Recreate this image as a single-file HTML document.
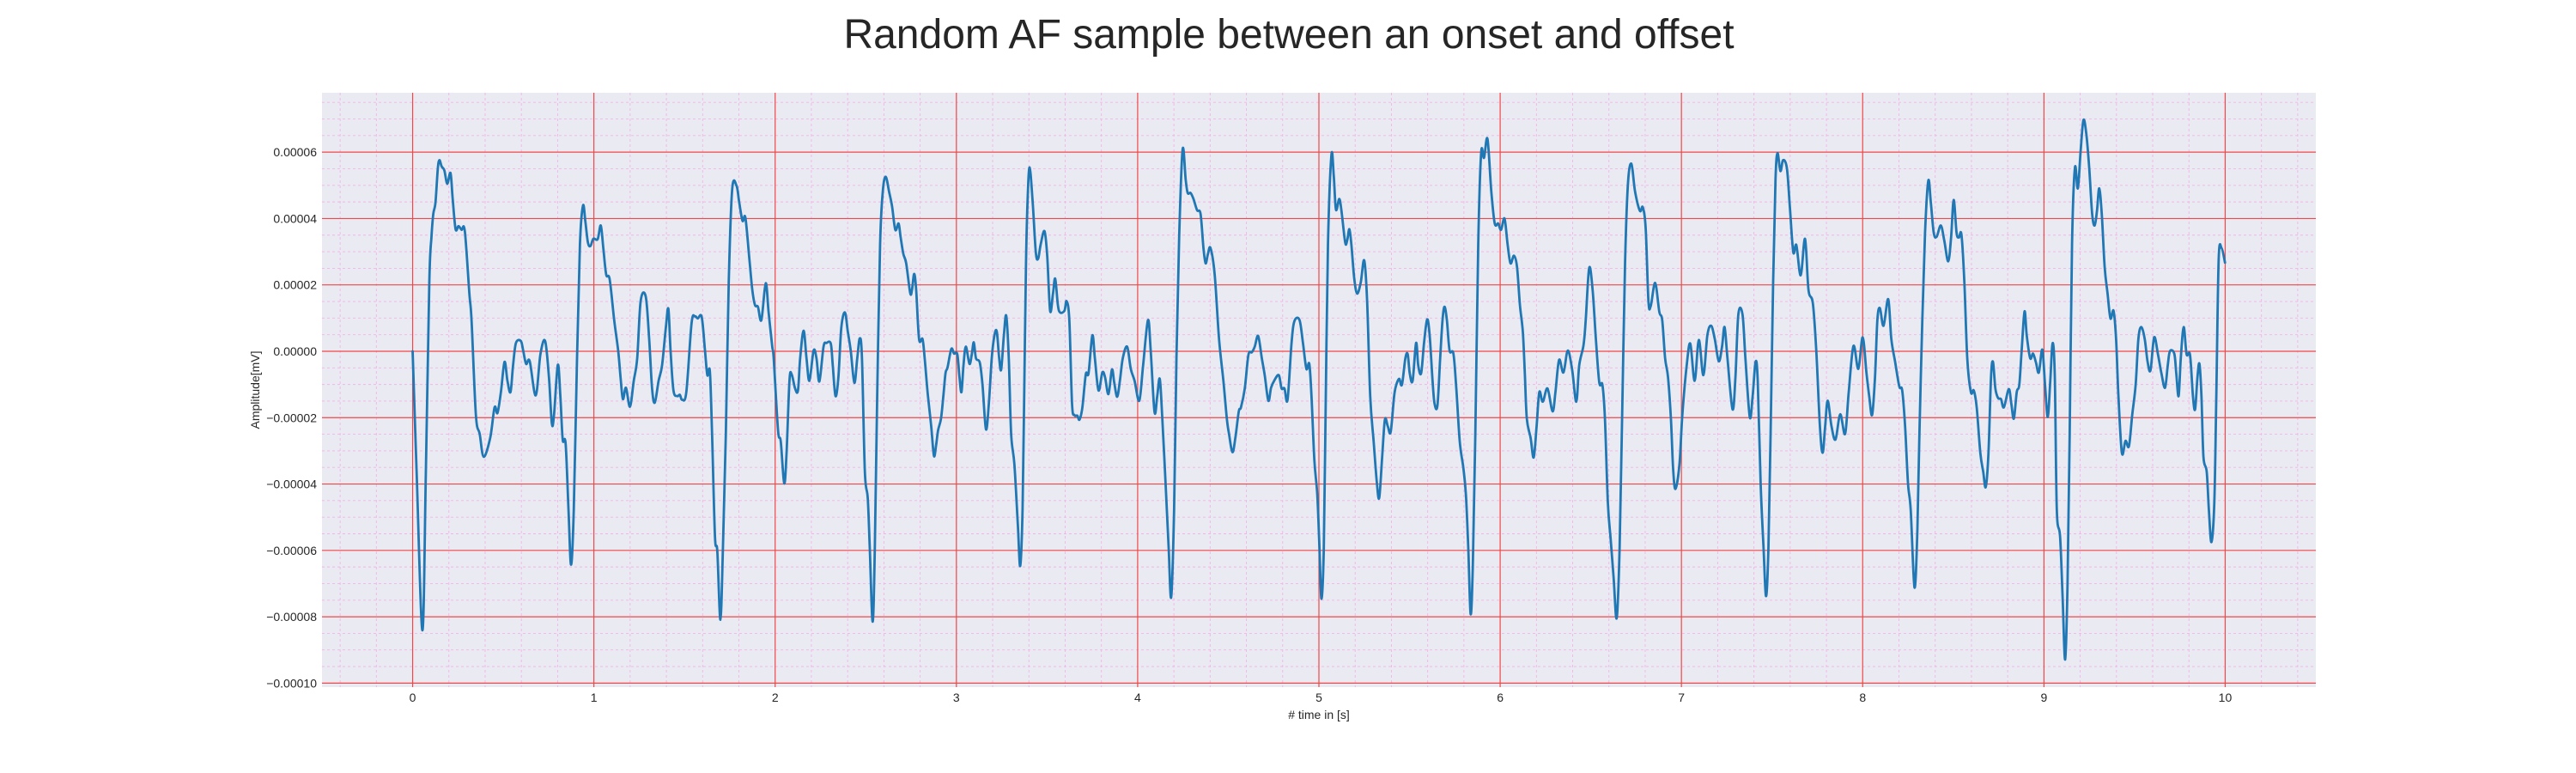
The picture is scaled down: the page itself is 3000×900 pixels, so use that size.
<!DOCTYPE html>
<html><head><meta charset="utf-8">
<style>
html,body{margin:0;padding:0;background:#fff;}
svg{display:block;font-family:"Liberation Sans",Arial,sans-serif;}
</style></head>
<body>
<svg id="chart" width="3000" height="900" viewBox="0 0 3000 900" xmlns="http://www.w3.org/2000/svg">
<text x="1501" y="56" font-size="48" text-anchor="middle" fill="#262626">Random AF sample between an onset and offset</text>
<rect x="375" y="108" width="2322" height="692" fill="#eaeaf2"/>
<g id="minor-grid"></g>
<g id="major-grid"></g>
<g id="yticks"></g>
<g id="xticks"></g>
<g id="series"></g>
<text x="1536" y="837" font-size="14" text-anchor="middle" fill="#262626"># time in [s]</text>
<text transform="translate(302,454) rotate(-90)" font-size="14" text-anchor="middle" fill="#262626">Amplitude[mV]</text>
</svg>
<script>
// time in seconds
const times = [0,0.022,0.054,0.073,0.092,0.104,0.114,0.126,0.139,0.148,0.160,0.175,0.191,0.209,0.221,0.237,0.253,0.270,0.288,0.313,0.325,0.349,0.370,0.392,0.428,0.452,0.468,0.487,0.507,0.523,0.540,0.554,0.570,0.597,0.610,0.626,0.646,0.679,0.705,0.731,0.752,0.768,0.780,0.801,0.815,0.828,0.844,0.860,0.874,0.889,0.907,0.923,0.940,0.953,0.967,0.981,0.997,1.021,1.038,1.052,1.068,1.087,1.112,1.134,1.147,1.160,1.177,1.199,1.220,1.239,1.258,1.286,1.305,1.321,1.336,1.357,1.376,1.397,1.411,1.423,1.439,1.460,1.474,1.487,1.510,1.539,1.558,1.573,1.595,1.613,1.626,1.640,1.652,1.668,1.681,1.698,1.712,1.728,1.744,1.763,1.787,1.802,1.820,1.836,1.858,1.874,1.889,1.905,1.924,1.948,1.964,1.984,
1.992,2.016,2.031,2.050,2.063,2.079,2.091,2.110,2.126,2.138,2.157,2.173,2.189,2.212,2.228,2.244,2.267,2.283,2.307,2.318,2.333,2.349,2.365,2.385,2.401,2.417,2.437,2.453,2.467,2.479,2.495,2.511,2.522,2.538,2.550,2.563,2.579,2.594,2.610,2.629,2.645,2.663,2.681,2.692,2.707,2.723,2.745,2.755,2.767,2.778,2.794,2.813,2.825,2.841,2.861,2.876,2.888,2.899,2.915,2.928,2.940,2.951,2.972,2.987,3.005,3.017,3.028,3.039,3.052,3.072,3.085,3.096,3.108,3.129,3.144,3.163,3.179,3.195,3.210,3.223,3.236,3.247,3.262,3.275,3.289,3.302,3.320,3.339,3.352,3.365,3.374,3.384,3.393,3.404,3.421,3.438,3.451,3.465,3.486,3.501,3.517,3.533,3.545,3.560,3.572,3.596,3.608,3.623,3.638,3.651,3.667,3.679,3.695,3.714,3.729,3.750,3.764,3.784,3.805,3.820,3.839,3.858,3.871,3.887,3.902,3.918,3.942,3.962,3.983,
4.009,4.030,4.057,4.072,4.093,4.108,4.122,4.135,4.155,4.171,4.185,4.201,4.214,4.229,4.248,4.265,4.276,4.292,4.308,4.328,4.347,4.363,4.375,4.388,4.402,4.425,4.449,4.473,4.492,4.504,4.523,4.539,4.558,4.570,4.591,4.611,4.630,4.646,4.665,4.685,4.701,4.721,4.736,4.755,4.779,4.794,4.810,4.827,4.849,4.865,4.893,4.912,4.931,4.947,4.959,4.975,4.991,5.003,5.014,5.027,5.038,5.050,5.069,5.082,5.094,5.112,5.124,5.145,5.156,5.168,5.179,5.195,5.211,5.231,5.250,5.266,5.283,5.302,5.320,5.333,5.349,5.364,5.380,5.396,5.415,5.427,5.443,5.458,5.477,5.490,5.501,5.517,5.536,5.548,5.564,5.580,5.597,5.611,5.627,5.638,5.654,5.669,5.682,5.693,5.706,5.721,5.742,5.758,5.777,5.797,5.811,5.824,5.837,5.849,5.863,5.879,5.895,5.911,5.930,5.951,
5.970,5.989,6.005,6.024,6.041,6.057,6.076,6.093,6.109,6.125,6.136,6.147,6.168,6.185,6.201,6.216,6.235,6.261,6.289,6.305,6.325,6.349,6.373,6.397,6.420,6.436,6.460,6.472,6.491,6.510,6.528,6.547,6.564,6.578,6.594,6.610,6.626,6.643,6.659,6.673,6.689,6.705,6.724,6.744,6.771,6.787,6.803,6.818,6.831,6.855,6.878,6.894,6.910,6.926,6.942,6.954,6.967,6.989,7.005,7.029,7.049,7.073,7.096,7.121,7.143,7.164,7.184,7.206,7.224,7.238,7.254,7.282,7.298,7.314,7.337,7.353,7.377,7.393,7.409,7.421,7.437,7.453,7.467,7.480,7.492,7.506,7.519,7.530,7.546,7.561,7.582,7.598,7.617,7.634,7.658,7.682,7.701,7.725,7.744,7.764,7.779,7.793,7.807,7.828,7.850,7.876,7.903,7.923,
7.949,7.976,8.000,8.021,8.036,8.052,8.068,8.081,8.095,8.115,8.141,8.158,8.179,8.202,8.218,8.234,8.250,8.265,8.286,8.302,8.313,8.329,8.344,8.362,8.376,8.392,8.408,8.431,8.450,8.472,8.488,8.502,8.518,8.531,8.545,8.561,8.577,8.597,8.613,8.629,8.649,8.665,8.679,8.694,8.708,8.719,8.732,8.747,8.763,8.779,8.806,8.820,8.834,8.850,8.864,8.877,8.893,8.905,8.924,8.940,8.956,8.972,8.991,9.006,9.021,9.035,9.048,9.060,9.071,9.089,9.103,9.117,9.130,9.142,9.155,9.171,9.187,9.203,9.218,9.234,9.250,9.266,9.280,9.293,9.305,9.319,9.335,9.351,9.367,9.384,9.398,9.411,9.430,9.450,9.469,9.487,9.506,9.521,9.537,9.556,9.572,9.588,9.608,9.629,9.648,9.668,9.683,9.695,9.719,9.730,9.743,9.755,9.771,9.787,9.806,9.822,9.834,9.847,9.858,9.869,9.880,9.898,9.910,9.924,9.940,9.951,9.964,9.980,9.999];
// amplitude in units of 1e-5 mV
const ampE5 = [0,-3.63,-8.41,-3.63,2.08,3.45,4.14,4.48,5.51,5.76,5.57,5.45,5.05,5.37,4.59,3.68,3.77,3.66,3.62,1.74,0.94,-1.92,-2.49,-3.18,-2.61,-1.69,-1.86,-1.23,-0.32,-0.89,-1.23,-0.43,0.25,0.31,0.02,-0.38,-0.30,-1.33,-0.09,0.31,-0.78,-2.17,-1.92,-0.41,-1.35,-2.66,-2.78,-4.78,-6.43,-4.78,-0.21,3.22,4.39,3.91,3.28,3.17,3.39,3.38,3.79,3.11,2.31,2.17,0.94,0.02,-0.78,-1.44,-1.10,-1.67,-0.89,-0.21,1.51,1.65,0.37,-1.12,-1.55,-0.89,-0.43,0.71,1.28,0.02,-1.18,-1.35,-1.31,-1.46,-1.23,0.85,1.05,0.99,1.03,0.02,-0.72,-0.61,-2.49,-5.58,-6.03,-8.09,-5.92,-2.49,2.08,4.88,4.99,4.48,3.93,4.02,2.77,1.85,1.39,1.34,0.94,2.05,1.17,0.14,
-0.21,-2.38,-2.72,-3.98,-3.06,-0.89,-0.69,-1.12,-1.18,-0.21,0.62,-0.21,-0.89,0.02,-0.21,-0.91,0.14,0.25,0.23,-0.43,-1.35,-0.78,0.71,1.17,0.59,0.02,-0.95,-0.21,0.39,-0.21,-3.63,-4.43,-5.92,-8.15,-5.92,-1.35,3.22,4.82,5.26,4.80,4.37,3.66,3.85,3.45,2.94,2.65,1.76,1.85,2.33,1.85,0.37,0.37,-0.21,-1.23,-2.26,-3.15,-2.83,-2.38,-2.03,-1.35,-0.66,-0.49,0.07,-0.07,-0.09,-0.78,-1.23,-0.43,0.14,-0.38,-0.09,0.27,-0.21,-0.34,-1.01,-2.35,-1.58,-0.21,0.48,0.59,-0.21,-0.55,0.48,1.07,-0.21,-2.49,-3.41,-5.23,-6.47,-4.78,-1.35,2.65,4.59,5.54,4.48,2.99,2.79,3.22,3.62,2.88,1.22,1.74,2.19,1.39,1.17,1.22,1.51,0.94,-1.58,-1.92,-1.94,-2.06,-1.69,-0.69,-0.66,0.48,-0.21,-1.18,-0.64,-0.78,-1.29,-0.55,-0.95,-1.37,-0.89,-0.21,0.14,-0.53,-0.89,
-1.49,-0.43,0.94,0.02,-1.83,-1.35,-0.83,-1.92,-4.09,-5.92,-7.41,-4.78,-0.21,3.45,6.08,5.17,4.77,4.77,4.59,4.25,4.14,3.11,2.65,2.94,3.11,2.31,0.37,-0.89,-2.03,-2.49,-3.04,-2.61,-1.81,-1.69,-1.12,-0.11,-0.03,0.14,0.46,-0.21,-0.72,-1.49,-1.10,-0.87,-0.72,-1.12,-1.12,-1.46,0.25,0.91,0.94,0.25,-0.53,-0.38,-1.35,-3.29,-4.32,-5.92,-7.46,-5.92,-1.35,3.22,5.91,5.28,4.27,4.59,4.25,3.28,3.34,3.68,3.22,2.19,1.74,2.08,2.74,1.51,-1.35,-2.72,-3.98,-4.41,-3.18,-2.06,-2.26,-2.43,-1.35,-1.01,-0.83,-1.01,-0.21,-0.09,-0.66,-0.89,0.25,-0.43,-0.66,0.25,0.96,0.48,-0.89,-1.58,-1.63,-0.21,0.94,1.34,0.94,0.02,-0.07,-1.12,-2.72,-3.52,-4.32,-5.92,-7.92,-6.49,-2.49,3.22,5.97,5.83,6.40,4.82,
3.85,3.85,3.66,4.00,3.22,2.65,2.88,2.54,1.39,0.59,-0.66,-2.03,-2.61,-3.20,-2.26,-1.23,-1.52,-1.12,-1.81,-1.23,-0.26,-0.64,0.02,-0.55,-1.52,-0.43,0.19,0.94,2.51,1.85,0.37,-0.95,-1.01,-2.03,-4.55,-5.69,-6.83,-8.04,-5.92,-1.92,2.65,5.05,5.65,4.82,4.23,4.34,3.68,1.51,1.37,2.06,1.19,0.94,-0.21,-0.78,-2.03,-3.52,-4.15,-3.41,-1.92,-0.43,0.23,-0.89,0.34,-0.72,0.48,0.77,0.37,-0.30,0.14,0.73,-0.21,-1.75,-0.78,1.11,1.11,-0.21,-1.98,-1.35,-0.32,-0.89,-3.98,-5.92,-7.38,-5.92,-2.49,2.08,5.17,5.97,5.43,5.76,5.51,4.37,2.99,3.20,2.29,3.39,1.85,1.45,0.02,-2.26,-3.06,-2.26,-1.49,-2.26,-2.66,-1.90,-2.49,-1.23,
0.16,-0.53,0.42,-0.66,-1.35,-1.92,-0.78,0.94,1.30,0.77,1.57,0.37,-0.32,-1.06,-1.18,-2.26,-3.98,-4.78,-7.12,-5.35,-2.49,0.94,3.57,5.14,4.48,3.57,3.45,3.79,3.34,2.71,3.45,4.56,3.57,3.43,3.51,2.08,-0.21,-1.23,-1.18,-1.69,-3.06,-3.63,-4.09,-3.06,-0.78,-0.32,-1.12,-1.41,-1.44,-1.69,-1.14,-1.58,-2.03,-1.23,-1.01,0.02,1.20,0.48,-0.21,-0.07,-0.34,-0.64,0.05,-1.01,-1.98,-0.89,0.25,-0.78,-4.78,-5.58,-7.41,-9.29,-7.06,-2.49,3.22,5.53,4.91,6.08,6.97,6.54,5.51,4.14,3.79,4.25,4.91,4.14,2.54,1.74,0.99,1.22,0.37,-1.35,-3.06,-2.70,-2.86,-1.92,-1.01,0.37,0.73,0.37,-0.32,-0.57,0.42,-0.09,-0.66,-1.10,-0.43,0.00,-0.07,-0.66,-1.35,-0.21,0.73,-0.09,-0.11,-1.35,-1.75,-0.78,-0.38,-1.35,-3.18,-3.63,-4.78,-5.75,-4.55,-1.35,2.77,3.11,2.67];
const yTickValues = [-10,-8,-6,-4,-2,0,2,4,6];
const yTickLabels = ["\u22120.00010","\u22120.00008","\u22120.00006","\u22120.00004","\u22120.00002","0.00000","0.00002","0.00004","0.00006"];
const xTickValues = [0,1,2,3,4,5,6,7,8,9,10];
const xTickLabels = ["0","1","2","3","4","5","6","7","8","9","10"];

const NS = "http://www.w3.org/2000/svg";
const L = 375, R = 2697, T = 108, B = 800;
const xMin = -0.5, xMax = 10.5, yMin = -10.12, yMax = 7.79;
function xs(t){ return L + (t - xMin) / (xMax - xMin) * (R - L); }
function ys(v){ return B - (v - yMin) / (yMax - yMin) * (B - T); }
function mk(tag, attrs, parent){
  const e = document.createElementNS(NS, tag);
  for (const k in attrs) e.setAttribute(k, attrs[k]);
  parent.appendChild(e);
  return e;
}
const minorG = document.getElementById('minor-grid');
const majorG = document.getElementById('major-grid');
const minorStyle = {stroke: '#f3b3e6', 'stroke-width': 0.9, 'stroke-dasharray': '3,3'};
for (let i = -25; i <= 52; i++) {
  const t = i * 0.2;
  if (t < xMin || t > xMax || Math.abs(t - Math.round(t)) < 1e-6) continue;
  const ln = mk('line', Object.assign({x1: xs(t), x2: xs(t), y1: T, y2: B}, minorStyle), minorG);
  
  
}
for (let i = -21; i <= 16; i++) {
  const v = i * 0.5;
  if (v < yMin || v > yMax || Math.abs(v / 2 - Math.round(v / 2)) < 1e-6) continue;
  const ln = mk('line', Object.assign({x1: L, x2: R, y1: ys(v), y2: ys(v)}, minorStyle), minorG);
  
  
}
const yt = document.getElementById('yticks');
yTickValues.forEach((v, i) => {
  const ln = mk('line', {x1: L, x2: R, y1: ys(v), y2: ys(v), stroke: '#f04848', 'stroke-width': 1.2}, majorG);
  
  
  const tx = mk('text', {x: 369, y: ys(v) + 5, 'font-size': 14, 'text-anchor': 'end', fill: '#262626'}, yt);
  tx.textContent = yTickLabels[i];
  
  
});
const xt = document.getElementById('xticks');
xTickValues.forEach((t, i) => {
  const ln = mk('line', {x1: xs(t), x2: xs(t), y1: T, y2: B, stroke: '#f04848', 'stroke-width': 1.2}, majorG);
  
  
  const tx = mk('text', {x: xs(t), y: 817, 'font-size': 14, 'text-anchor': 'middle', fill: '#262626'}, xt);
  tx.textContent = xTickLabels[i];
  
  
});
// series, smoothed with Catmull-Rom
const P = times.map((t, i) => [xs(t), ys(ampE5[i])]);
let d = 'M' + P[0][0].toFixed(2) + ',' + P[0][1].toFixed(2);
for (let i = 0; i < P.length - 1; i++) {
  const p0 = P[Math.max(0, i - 1)], p1 = P[i], p2 = P[i + 1], p3 = P[Math.min(P.length - 1, i + 2)];
  const c1x = p1[0] + (p2[0] - p0[0]) / 6, c1y = p1[1] + (p2[1] - p0[1]) / 6;
  const c2x = p2[0] - (p3[0] - p1[0]) / 6, c2y = p2[1] - (p3[1] - p1[1]) / 6;
  d += ' C' + c1x.toFixed(2) + ',' + c1y.toFixed(2) + ' ' + c2x.toFixed(2) + ',' + c2y.toFixed(2) + ' ' + p2[0].toFixed(2) + ',' + p2[1].toFixed(2);
}
const pl = mk('path', {d: d, fill: 'none', stroke: '#1f77b4', 'stroke-width': 2.8, 'stroke-linejoin': 'round', 'stroke-linecap': 'round'}, document.getElementById('series'));


</script>
</body></html>
